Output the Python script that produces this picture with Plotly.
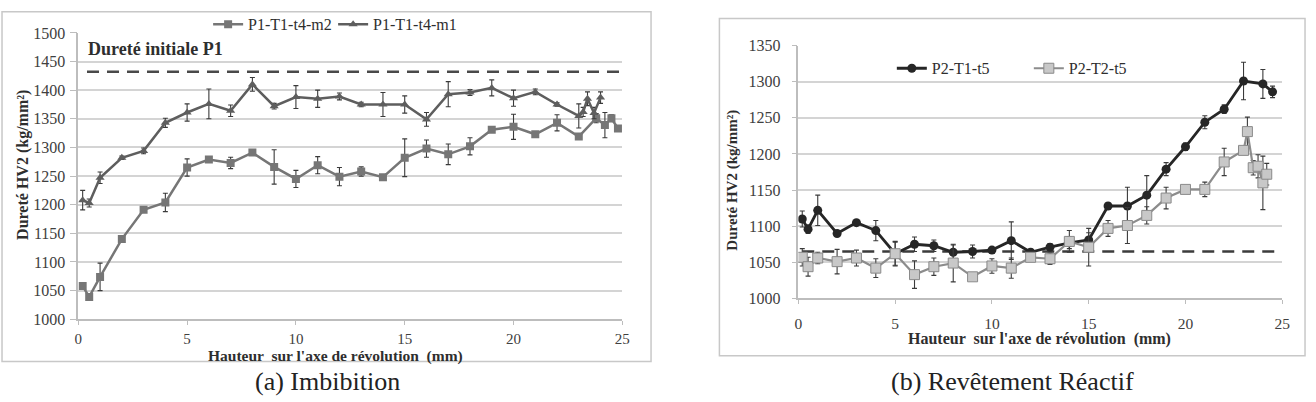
import plotly.graph_objects as go

W, H = 1316, 402

# ---------------- data: (a) Imbibition ----------------
x_m2 = [0.2, 0.5, 1, 2, 3, 4, 5, 6, 7, 8, 9, 10, 11, 12, 13, 14, 15, 16, 17, 18, 19, 20, 21, 22, 23, 23.8, 24.2, 24.5, 24.8]
y_m2 = [1058, 1039, 1074, 1140, 1191, 1204, 1265, 1279, 1273, 1291, 1266, 1245, 1269, 1249, 1258, 1248, 1282, 1298, 1288, 1302, 1331, 1336, 1323, 1343, 1319, 1351, 1339, 1351, 1333]
e_m2 = [4, 4, 24, 4, 3, 16, 15, 4, 10, 3, 30, 15, 15, 16, 8, 3, 33, 15, 18, 15, 5, 22, 4, 14, 4, 8, 22, 6, 4]

x_m1 = [0.2, 0.5, 1, 2, 3, 4, 5, 6, 7, 8, 9, 10, 11, 12, 13, 14, 15, 16, 17, 18, 19, 20, 21, 22, 23, 23.2, 23.4, 23.7, 24.0]
y_m1 = [1208, 1203, 1247, 1282, 1294, 1343, 1361, 1376, 1364, 1410, 1372, 1388, 1385, 1389, 1375, 1375, 1375, 1349, 1393, 1396, 1404, 1386, 1397, 1375, 1355, 1362, 1385, 1360, 1387]
e_m1 = [17, 7, 10, 3, 5, 8, 15, 26, 10, 12, 5, 20, 15, 6, 4, 21, 15, 12, 22, 5, 14, 14, 5, 3, 21, 8, 12, 10, 10]

ref_a_x = [0.4, 25.3]
ref_a_y = [1432, 1432]

# ---------------- data: (b) Revêtement Réactif ----------------
x_t1 = [0.2, 0.5, 1, 2, 3, 4, 5, 6, 7, 8, 9, 10, 11, 12, 13, 14, 15, 16, 17, 18, 19, 20, 21, 22, 23, 24, 24.5]
y_t1 = [1110, 1096, 1122, 1090, 1105, 1094, 1062, 1075, 1073, 1064, 1065, 1067, 1080, 1064, 1071, 1077, 1081, 1128, 1128, 1143, 1179, 1210, 1244, 1262, 1301, 1297, 1286]
e_t1 = [11, 6, 21, 3, 3, 14, 17, 10, 8, 10, 9, 4, 26, 4, 5, 8, 10, 4, 26, 27, 9, 5, 9, 6, 26, 20, 8]

x_t2 = [0.2, 0.5, 1, 2, 3, 4, 5, 6, 7, 8, 9, 10, 11, 12, 13, 14, 15, 16, 17, 18, 19, 20, 21, 22, 23, 23.2, 23.5, 23.75, 24.0, 24.2]
y_t2 = [1057, 1044, 1056, 1051, 1056, 1042, 1062, 1033, 1044, 1049, 1030, 1045, 1042, 1057, 1055, 1079, 1071, 1097, 1101, 1115, 1139, 1151, 1151, 1189, 1205, 1231, 1181, 1183, 1160, 1172]
e_t2 = [12, 13, 8, 17, 11, 13, 16, 19, 12, 26, 5, 10, 14, 5, 8, 15, 26, 11, 25, 12, 15, 4, 10, 19, 4, 20, 10, 16, 37, 15]

ref_b_x = [0.2, 24.7]
ref_b_y = [1065, 1065]

x_ticks = [0, 5, 10, 15, 20, 25]
y_ticks_a = [1000, 1050, 1100, 1150, 1200, 1250, 1300, 1350, 1400, 1450, 1500]
y_ticks_b = [1000, 1050, 1100, 1150, 1200, 1250, 1300, 1350]

SERIF = "Liberation Serif, Times New Roman, serif"
TXT = "#2e2e2e"
ERR_COL = "#3a3a3a"

def tfont(size):
    return dict(family=SERIF, size=size, color="#404040")

fig = go.Figure()

def err(arr):
    return dict(type="data", array=arr, visible=True, color=ERR_COL, thickness=1.1, width=2.5)

# left chart
fig.add_trace(go.Scatter(x=x_m2, y=y_m2, name="P1-T1-t4-m2", mode="lines+markers",
                         line=dict(color="#767676", width=2.5),
                         marker=dict(symbol="square", size=8, color="#767676"),
                         error_y=err(e_m2), xaxis="x", yaxis="y", legend="legend"))
fig.add_trace(go.Scatter(x=x_m1, y=y_m1, name="P1-T1-t4-m1", mode="lines+markers",
                         line=dict(color="#5e5e5e", width=2.5),
                         marker=dict(symbol="triangle-up", size=8, color="#5e5e5e"),
                         error_y=err(e_m1), xaxis="x", yaxis="y", legend="legend"))
fig.add_trace(go.Scatter(x=ref_a_x, y=ref_a_y, mode="lines", showlegend=False,
                         line=dict(color="#4a4a4a", width=2.5, dash="12px,8px"),
                         xaxis="x", yaxis="y", hoverinfo="skip"))

# right chart
fig.add_trace(go.Scatter(x=ref_b_x, y=ref_b_y, mode="lines", showlegend=False,
                         line=dict(color="#3c3c3c", width=2.5, dash="12px,8px"),
                         xaxis="x2", yaxis="y2", hoverinfo="skip"))
fig.add_trace(go.Scatter(x=x_t1, y=y_t1, name="P2-T1-t5", mode="lines+markers",
                         line=dict(color="#262626", width=2.8),
                         marker=dict(symbol="circle", size=9, color="#262626"),
                         error_y=err(e_t1), xaxis="x2", yaxis="y2", legend="legend2"))
fig.add_trace(go.Scatter(x=x_t2, y=y_t2, name="P2-T2-t5", mode="lines+markers",
                         line=dict(color="#8c8c8c", width=2.2),
                         marker=dict(symbol="square", size=10, color="#c8c8c8",
                                     line=dict(color="#8a8a8a", width=1)),
                         error_y=err(e_t2), xaxis="x2", yaxis="y2", legend="legend2"))

def px_x(p):
    return p / W

def px_y(p):
    return 1 - p / H

def ax(**kw):
    base = dict(showgrid=True, gridcolor="#d4d4d4", gridwidth=1.5,
                showline=True, linecolor="#bdbdbd", linewidth=1.5,
                ticks="outside", ticklen=5, tickcolor="#bdbdbd",
                tickfont=tfont(16), zeroline=False, fixedrange=True)
    base.update(kw)
    return base

fig.update_layout(
    width=W, height=H, margin=dict(l=0, r=0, t=0, b=0),
    paper_bgcolor="white", plot_bgcolor="white",
    xaxis=ax(domain=[px_x(75), px_x(624)], range=[0, 25], tickvals=x_ticks,
             anchor="y", showgrid=False, ticklen=4, ticklabelstandoff=1, tickfont=tfont(15)),
    yaxis=ax(domain=[px_y(325), px_y(26)], range=[1000, 1500], tickvals=y_ticks_a,
             anchor="x", ticklen=7, ticklabelstandoff=1),
    xaxis2=ax(domain=[px_x(801.7), px_x(1290)], range=[0, 25], tickvals=x_ticks,
              anchor="y2", showgrid=False, ticklen=4, ticklabelstandoff=6, tickfont=tfont(15.5)),
    yaxis2=ax(domain=[px_y(303.3), px_y(39.3)], range=[1000, 1350], tickvals=y_ticks_b,
              anchor="x2", ticklen=5, ticklabelstandoff=8),
    legend=dict(orientation="h", x=px_x(206), y=px_y(17), xanchor="left", yanchor="middle",
                font=dict(family=SERIF, size=16, color=TXT),
                bgcolor="rgba(0,0,0,0)", itemwidth=30, tracegroupgap=0,
                entrywidth=80, entrywidthmode="pixels"),
    legend2=dict(orientation="h", x=px_x(896), y=px_y(63), xanchor="left", yanchor="middle",
                 font=dict(family=SERIF, size=16, color=TXT),
                 bgcolor="rgba(0,0,0,0)", itemwidth=30, tracegroupgap=0,
                 entrywidth=92, entrywidthmode="pixels"),
    showlegend=True,
)

shapes = [
    dict(type="rect", xref="paper", yref="paper", x0=px_x(-2), x1=px_x(653), y0=px_y(369), y1=px_y(4),
         line=dict(color="#c8c8c8", width=1.5), fillcolor="rgba(0,0,0,0)", layer="below"),
    dict(type="rect", xref="paper", yref="paper", x0=px_x(722), x1=px_x(1313), y0=px_y(363), y1=px_y(11),
         line=dict(color="#c8c8c8", width=1.5), fillcolor="rgba(0,0,0,0)", layer="below"),
]
fig.update_layout(shapes=shapes)

def note(text, x, y, size, angle=0, bold=True, color=TXT):
    t = f"<b>{text}</b>" if bold else text
    return dict(text=t, xref="paper", yref="paper", x=px_x(x), y=px_y(y),
                xanchor="center", yanchor="middle", textangle=angle, showarrow=False,
                font=dict(family=SERIF, size=size, color=color))

annotations = [
    dict(text="<b>Dureté initiale P1</b>", xref="paper", yref="paper", x=px_x(83), y=px_y(43),
         xanchor="left", yanchor="middle", showarrow=False,
         font=dict(family=SERIF, size=18, color=TXT)),
    note("Dureté HV2 (kg/mm²)", 19, 164, 16, angle=-90),
    note("Hauteur  sur l'axe de révolution  (mm)", 335, 363, 15.5),
    note("Dureté HV2 (kg/mm²)", 735, 180, 15, angle=-90),
    note("Hauteur  sur l'axe de révolution  (mm)", 1045, 346, 16),
    note("(a) Imbibition", 326, 390, 26, bold=False, color="#222222"),
    note("(b) Revêtement Réactif", 1018, 390, 26, bold=False, color="#222222"),
]
fig.update_layout(annotations=annotations)

fig.write_html("out.html")
